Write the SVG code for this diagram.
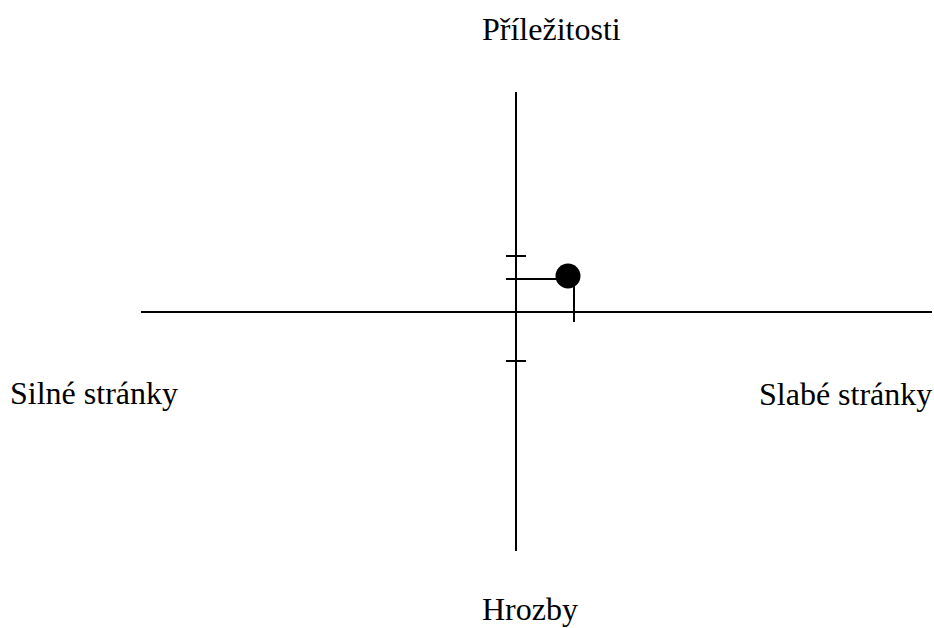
<svg xmlns="http://www.w3.org/2000/svg" width="934" height="628" viewBox="0 0 934 628">
  <style>
    .ax { stroke: #000; stroke-width: 2; fill: none; }
    .lbl { font-size: 32px; fill: #000; }
  </style>
  <rect width="934" height="628" fill="#fff"/>
  <g id="connectors">
    <line class="ax" x1="516" y1="92" x2="516" y2="551"/>
    <line class="ax" x1="141" y1="312" x2="932" y2="312"/>
    <line class="ax" x1="506" y1="256" x2="526" y2="256"/>
    <line class="ax" x1="506" y1="361" x2="526" y2="361"/>
    <line class="ax" x1="506" y1="279" x2="558" y2="279"/>
    <line class="ax" x1="574" y1="280" x2="574" y2="322"/>
  </g>
  <g id="point">
    <circle cx="568" cy="276" r="12.5" fill="#000"/>
  </g>
  <g font-family="'Liberation Serif', 'Times New Roman', 'DejaVu Serif', serif">
    <g id="opportunities"><text class="lbl" x="482" y="40">Příležitosti</text></g>
    <g id="strengths"><text class="lbl" x="10" y="404">Silné stránky</text></g>
    <g id="weaknesses"><text class="lbl" x="759" y="405">Slabé stránky</text></g>
    <g id="threats"><text class="lbl" x="482" y="620">Hrozby</text></g>
  </g>
</svg>
